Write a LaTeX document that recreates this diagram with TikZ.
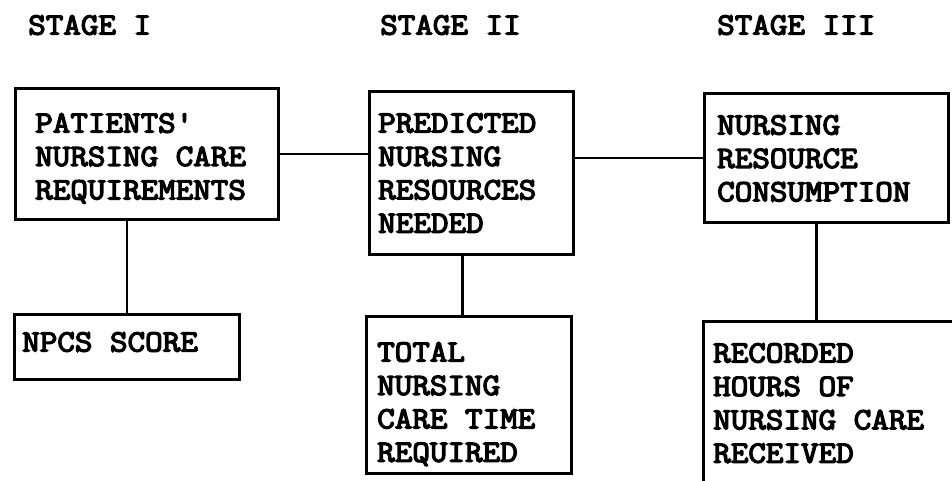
\documentclass[tikz,border=0pt]{standalone}
\usepackage{fontspec}
\newfontfamily\mymono[FakeBold=4]{Latin Modern Mono}
\begin{document}
\begin{tikzpicture}[x=1pt,y=-1pt,
  box/.style={draw=black,line width=2.8pt,rectangle,inner sep=0pt,anchor=north west},
  txt/.style={inner sep=0pt,anchor=north west,align=left,xscale=1.1,transform shape,
    font=\fontsize{31}{33.4}\selectfont\mymono},
  link/.style={draw=black,line width=2.6pt}]
\useasboundingbox[fill=white] (0,0) rectangle (952,480);
% stage titles
\node[txt] (s1) at (28,15) {STAGE I};
\node[txt] (s2) at (380,15) {STAGE II};
\node[txt] (s3) at (717,15) {STAGE III};
% boxes
\node[box,minimum width=263pt,minimum height=131pt] (b1) at (14,87) {};
\node[box,minimum width=204pt,minimum height=163pt] (b2) at (368,90) {};
\node[box,minimum width=244pt,minimum height=129pt] (b3) at (703,92) {};
\node[box,minimum width=225pt,minimum height=65pt] (npcs) at (13,313) {};
\node[box,minimum width=205pt,minimum height=157pt] (tot) at (365,315) {};
\node[box,minimum width=252pt,minimum height=166pt] (rec) at (702,320) {};
% texts
\node[txt] (t1) at (35,113) {PATIENTS'\\NURSING CARE\\REQUIREMENTS};
\node[txt] (t2) at (378,113) {PREDICTED\\NURSING\\RESOURCES\\NEEDED};
\node[txt] (t3) at (717,115) {NURSING\\RESOURCE\\CONSUMPTION};
\node[txt] (t4) at (22,332) {NPCS SCORE};
\node[txt] (t5) at (377,342) {TOTAL\\NURSING\\CARE TIME\\REQUIRED};
\node[txt] (t6) at (713,343) {RECORDED\\HOURS OF\\NURSING CARE\\RECEIVED};
% connectors
\draw[link] (b1.east) -- (b1.east -| b2.west);
\draw[link] (b3.west -| b2.east) -- (b3.west);
\draw[link] (npcs.north) -- (npcs.north |- b1.south);
\draw[link] ([xshift=-9pt]b2.south) -- ([xshift=-9pt]b2.south |- tot.north);
\draw[link] ([xshift=-10pt]b3.south) -- ([xshift=-10pt]b3.south |- rec.north);
\end{tikzpicture}
\end{document}
